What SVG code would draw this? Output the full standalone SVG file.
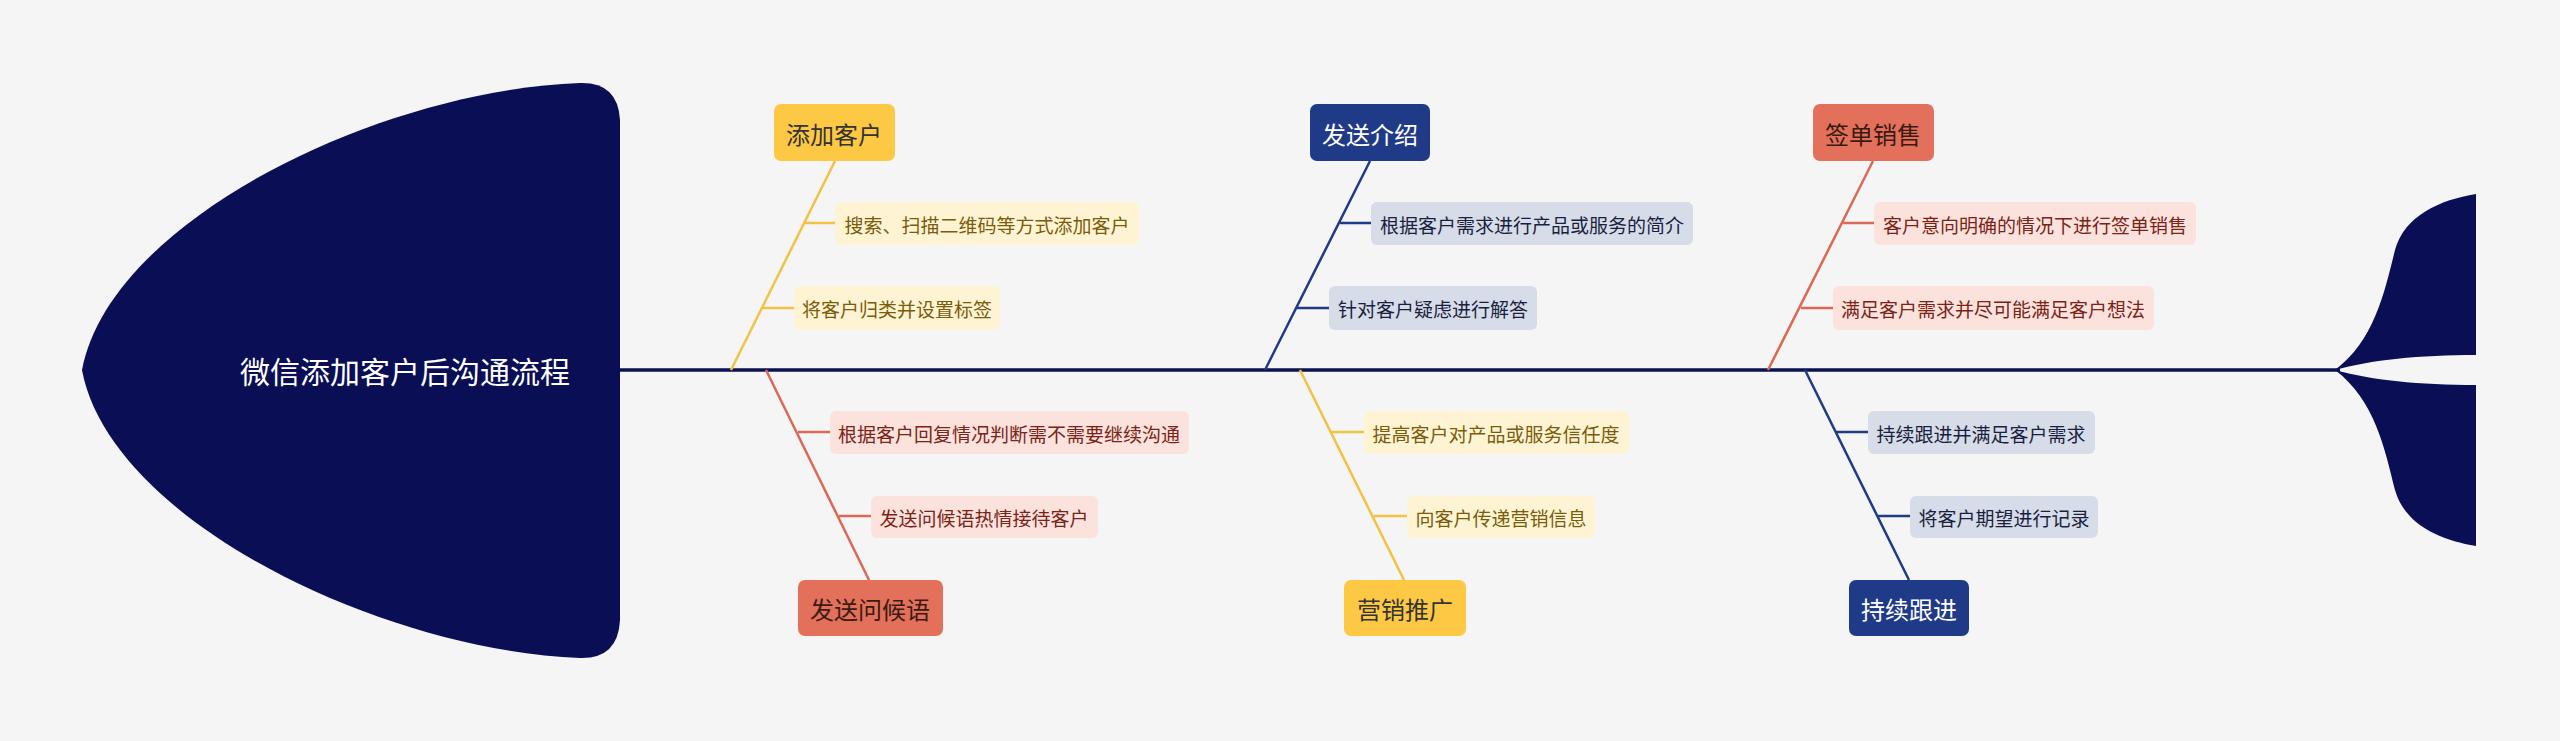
<svg xmlns="http://www.w3.org/2000/svg" width="2560" height="741" viewBox="0 0 2560 741">
<style>
text{font-family:"Noto Sans CJK SC","Noto Sans",sans-serif;dominant-baseline:central;text-anchor:middle}
.t{font-size:24px}.s{font-size:19px}
.y{fill:#FDC945}.ys{fill:#FEF4D4}.yt{fill:#7A5C0A}
.r{fill:#E2705A}.rs{fill:#FBE2DC}.rt{fill:#7A2418}
.n{fill:#1F3A87}.ns{fill:#D6DCE8}.nt{fill:#1A1F3F}
.ly{stroke:#F2C243;stroke-width:2.5;fill:none}
.lr{stroke:#DA6A55;stroke-width:2.5;fill:none}
.ln{stroke:#1F3A87;stroke-width:2.5;fill:none}
</style>
<rect width="2560" height="741" fill="#F5F5F5"/>
<g id="connectors">
<line x1="620" y1="370" x2="2340" y2="370" stroke="#0A1250" stroke-width="3.5"/>
<path class="ly" d="M835,161 L731,370 M804,223 H835 M761,308 H794"/>
<path class="lr" d="M766,370 L869,580 M798,432 H830 M839,516 H871"/>
<path class="ln" d="M1370,161 L1265,370 M1340,223 H1371 M1296,308 H1329"/>
<path class="ly" d="M1300,370 L1404,580 M1331,432 H1364 M1374,516 H1407"/>
<path class="lr" d="M1873,161 L1768,370 M1843,223 H1874 M1801,308 H1833"/>
<path class="ln" d="M1805,370 L1909,580 M1835,432 H1868 M1878,516 H1910"/>
</g>
<g id="head">
<path d="M82,370 C110,220 380,90 580,83 Q618,82 620,120 L620,620 Q618,659 580,658 C380,650 110,520 82,370 Z" fill="#0A0E55"/>
<text x="405" y="370" fill="#FFFFFF" font-size="30">微信添加客户后沟通流程</text>
</g>
<g id="tail" fill="#0A0E55">
<path d="M2335,370 C2375,340 2385,290 2395,250 C2405,215 2440,200 2476,194 L2476,355 C2420,355 2370,360 2335,370 Z"/>
<path d="M2335,370 C2375,400 2385,450 2395,490 C2405,525 2440,540 2476,546 L2476,385 C2420,385 2370,380 2335,370 Z"/>
</g>
<g id="n1"><rect x="774" y="104" width="121" height="57" rx="7" class="y"/><text x="834" y="133" class="t" fill="#333">添加客户</text></g>
<g id="n1a"><rect x="835" y="202" width="304" height="43" rx="6" class="ys"/><text x="987" y="224" class="s yt">搜索、扫描二维码等方式添加客户</text></g>
<g id="n1b"><rect x="794" y="286" width="206" height="44" rx="6" class="ys"/><text x="897" y="308" class="s yt">将客户归类并设置标签</text></g>
<g id="n2"><rect x="798" y="580" width="145" height="56" rx="7" class="r"/><text x="870" y="608" class="t" fill="#3A1A12">发送问候语</text></g>
<g id="n2a"><rect x="830" y="411" width="359" height="43" rx="6" class="rs"/><text x="1009" y="433" class="s rt">根据客户回复情况判断需不需要继续沟通</text></g>
<g id="n2b"><rect x="871" y="496" width="227" height="42" rx="6" class="rs"/><text x="984" y="517" class="s rt">发送问候语热情接待客户</text></g>
<g id="n3"><rect x="1310" y="104" width="120" height="57" rx="7" class="n"/><text x="1370" y="133" class="t" fill="#FFFFFF">发送介绍</text></g>
<g id="n3a"><rect x="1371" y="202" width="322" height="43" rx="6" class="ns"/><text x="1532" y="224" class="s nt">根据客户需求进行产品或服务的简介</text></g>
<g id="n3b"><rect x="1329" y="286" width="208" height="44" rx="6" class="ns"/><text x="1433" y="308" class="s nt">针对客户疑虑进行解答</text></g>
<g id="n4"><rect x="1344" y="580" width="122" height="56" rx="7" class="y"/><text x="1405" y="608" class="t" fill="#333">营销推广</text></g>
<g id="n4a"><rect x="1364" y="411" width="265" height="43" rx="6" class="ys"/><text x="1496" y="433" class="s yt">提高客户对产品或服务信任度</text></g>
<g id="n4b"><rect x="1407" y="496" width="188" height="42" rx="6" class="ys"/><text x="1501" y="517" class="s yt">向客户传递营销信息</text></g>
<g id="n5"><rect x="1813" y="104" width="121" height="57" rx="7" class="r"/><text x="1873" y="133" class="t" fill="#3A1A12">签单销售</text></g>
<g id="n5a"><rect x="1874" y="202" width="322" height="43" rx="6" class="rs"/><text x="2035" y="224" class="s rt">客户意向明确的情况下进行签单销售</text></g>
<g id="n5b"><rect x="1833" y="286" width="321" height="44" rx="6" class="rs"/><text x="1993" y="308" class="s rt">满足客户需求并尽可能满足客户想法</text></g>
<g id="n6"><rect x="1849" y="580" width="120" height="56" rx="7" class="n"/><text x="1909" y="608" class="t" fill="#FFFFFF">持续跟进</text></g>
<g id="n6a"><rect x="1868" y="411" width="227" height="43" rx="6" class="ns"/><text x="1981" y="433" class="s nt">持续跟进并满足客户需求</text></g>
<g id="n6b"><rect x="1910" y="496" width="188" height="42" rx="6" class="ns"/><text x="2004" y="517" class="s nt">将客户期望进行记录</text></g>
</svg>
